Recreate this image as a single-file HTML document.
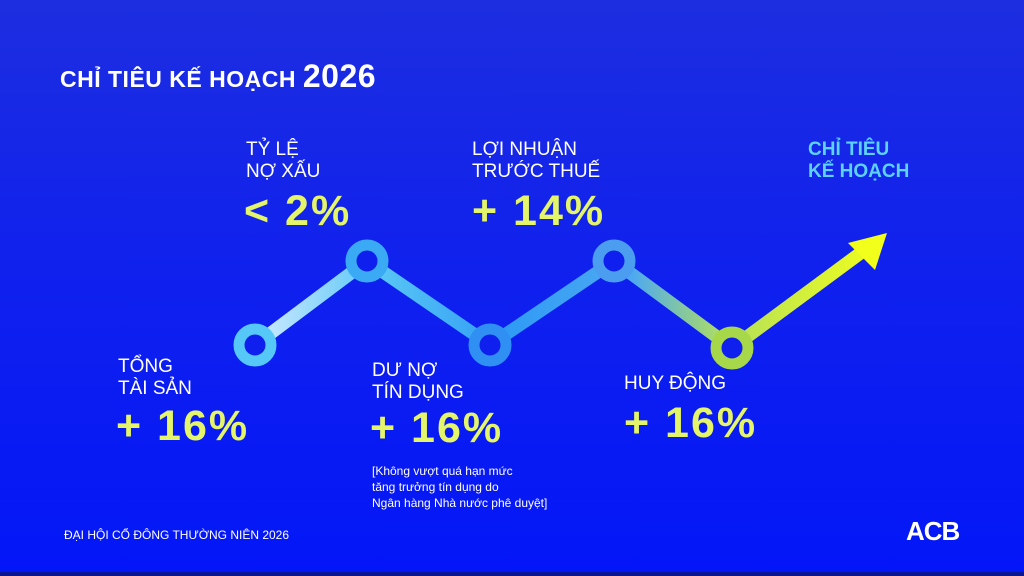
<!DOCTYPE html>
<html><head><meta charset="utf-8"><style>
body{margin:0;width:1024px;height:576px;overflow:hidden;background:linear-gradient(180deg,#1d2ee0 0%,#0f20ee 50%,#0316f8 100%);font-family:"Liberation Sans",sans-serif;position:relative}
.t{position:absolute;color:#fff;white-space:nowrap}
.l{font-size:19px;line-height:22px;color:#fff}
.v{font-size:43px;font-weight:bold;color:#e4f56a;letter-spacing:2px}
.bot{position:absolute;left:0;bottom:0;width:1024px;height:4px;background:#0a1590}
</style></head><body>
<div class="t" style="left:60px;top:58px;font-size:23px;font-weight:bold;letter-spacing:0.5px">CHỈ TIÊU KẾ HOẠCH <span style="font-size:32px">2026</span></div>
<svg width="1024" height="576" style="position:absolute;left:0;top:0">
<defs>
<linearGradient id="g" x1="255" y1="0" x2="885" y2="0" gradientUnits="userSpaceOnUse">
<stop offset="0" stop-color="#cfeaff"/><stop offset="0.2" stop-color="#58c6f5"/><stop offset="0.4" stop-color="#2f9bf5"/><stop offset="0.6" stop-color="#4eaaf0"/><stop offset="0.75" stop-color="#b4e05a"/><stop offset="1" stop-color="#f2ff1a"/>
</linearGradient>
</defs>
<polyline points="255,345 367,261 490,345 614,261 732,348 870,246" fill="none" stroke="url(#g)" stroke-width="13"/>
<polygon points="887,233 848,243 875,270" fill="#f2ff1a"/>
<g fill="#0f20ee" stroke-width="11">
<circle cx="255" cy="345" r="16" stroke="#55c8f8"/>
<circle cx="367" cy="261" r="16" stroke="#3aaaf5"/>
<circle cx="490" cy="345" r="16" stroke="#2f8ff2"/>
<circle cx="614" cy="261" r="16" stroke="#4b9df0"/>
<circle cx="732" cy="348" r="16" stroke="#a6d84a"/>
</g>
</svg>
<div class="t l" style="left:246px;top:139px">TỶ LỆ<br>NỢ XẤU</div>
<div class="t v" style="left:244px;top:187px">&lt; 2%</div>
<div class="t l" style="left:472px;top:139px">LỢI NHUẬN<br>TRƯỚC THUẾ</div>
<div class="t v" style="left:472px;top:187px">+ 14%</div>
<div class="t l" style="left:808px;top:139px;color:#5cd3ff;font-weight:bold">CHỈ TIÊU<br>KẾ HOẠCH</div>
<div class="t l" style="left:118px;top:356px">TỔNG<br>TÀI SẢN</div>
<div class="t v" style="left:116px;top:402px">+ 16%</div>
<div class="t l" style="left:372px;top:360px">DƯ NỢ<br>TÍN DỤNG</div>
<div class="t v" style="left:370px;top:404px">+ 16%</div>
<div class="t" style="left:372px;top:463px;font-size:12px;line-height:16px">[Không vượt quá hạn mức<br>tăng trưởng tín dụng do<br>Ngân hàng Nhà nước phê duyệt]</div>
<div class="t l" style="left:624px;top:373px">HUY ĐỘNG</div>
<div class="t v" style="left:624px;top:399px">+ 16%</div>
<div class="t" style="left:64px;top:528px;font-size:12px">ĐẠI HỘI CỔ ĐÔNG THƯỜNG NIÊN 2026</div>
<div class="t" style="left:906px;top:516px;font-size:26px;font-weight:bold;letter-spacing:-1px">ACB</div>
<div class="bot"></div>
</body></html>
